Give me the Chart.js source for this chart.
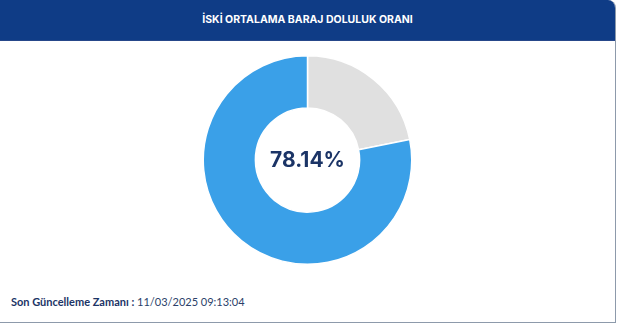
<!DOCTYPE html>
<html lang="tr">
<head>
<meta charset="utf-8">
<script src="https://cdn.jsdelivr.net/npm/chart.js@4.4.1/dist/chart.umd.min.js"></script>
<style>
  html, body {
    margin: 0;
    padding: 0;
    background: #ffffff;
    font-family: "Inter", "Noto Sans", sans-serif;
  }
  .card {
    position: relative;
    width: 615px;
    height: 322px;
    border-right: 1px solid #8d9aab;
    border-bottom: 1px solid #8d9aab;
    border-top-right-radius: 8px;
    overflow: hidden;
  }
  .card-header {
    height: 40px;
    background: #0f3c86;
    color: #ffffff;
    font-size: 10.5px;
    font-weight: 700;
    line-height: 40px;
    text-align: center;
    border-bottom: 1px solid #26478a;
  }
  .chart-box {
    position: absolute;
    left: 0;
    top: 55px;
    width: 615px;
    height: 210px;
  }
  .center-label {
    position: absolute;
    left: 0;
    top: 55px;
    width: 615px;
    height: 210px;
    line-height: 210px;
    text-align: center;
    font-size: 21px;
    font-weight: 700;
    color: #1b3466;
    pointer-events: none;
  }
  .updated {
    position: absolute;
    left: 11px;
    top: 295px;
    font-family: "Lato", "Inter", sans-serif;
    font-size: 11px;
    color: #2b3f6a;
  }
  .updated b {
    font-weight: 700;
    color: #1b3466;
  }
</style>
</head>
<body>
<div class="card">
  <div class="card-header">İSKİ ORTALAMA BARAJ DOLULUK ORANI</div>
  <div class="chart-box"><canvas id="dam-chart"></canvas></div>
  <div class="center-label" id="center-label"></div>
  <div class="updated"><b>Son Güncelleme Zamanı :</b> 11/03/2025 09:13:04</div>
</div>
<script>
  const labels = ["Boş", "Dolu"];
  const occupancy = [21.86, 78.14];
  const sliceColors = ["#e0e0e0", "#3aa0e8"];

  document.getElementById("center-label").textContent =
    occupancy[1].toFixed(2) + "%";

  new Chart(document.getElementById("dam-chart"), {
    type: "doughnut",
    data: {
      labels: labels,
      datasets: [
        {
          data: occupancy,
          backgroundColor: sliceColors,
          borderColor: "#ffffff",
          borderWidth: 1.5,
        },
      ],
    },
    options: {
      responsive: true,
      maintainAspectRatio: false,
      animation: false,
      cutout: "50%",
      layout: { padding: 0 },
      plugins: {
        legend: { display: false },
        tooltip: { enabled: false },
      },
    },
  });
</script>
</body>
</html>
